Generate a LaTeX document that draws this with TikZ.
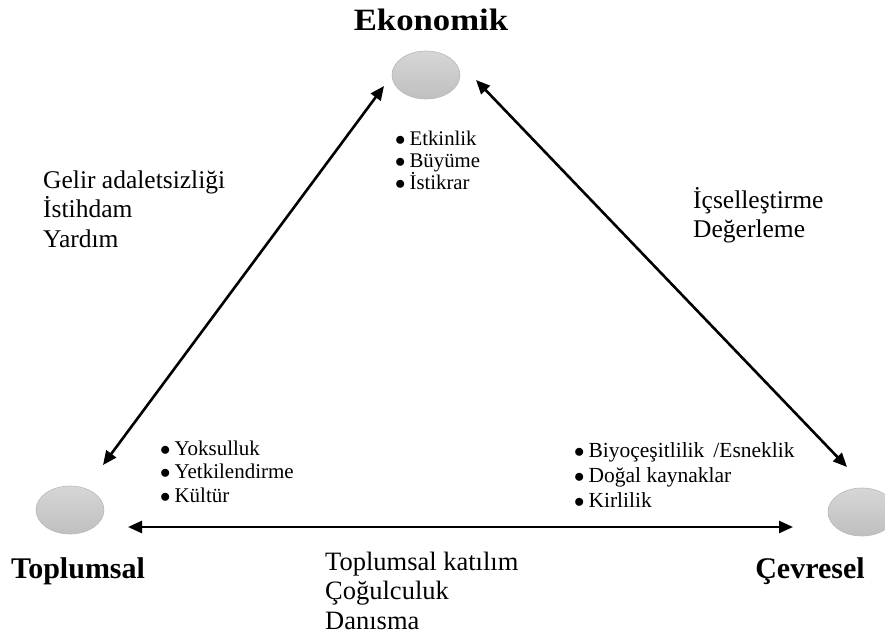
\documentclass[tikz,border=0pt]{standalone}
\usepackage{fontspec}
\setmainfont{Liberation Serif}
\usetikzlibrary{arrows.meta,shapes.geometric}

\tikzset{
  pole/.style={ellipse,draw=gray!55,line width=0.6pt,top color=gray!32,bottom color=gray!50,
    minimum width=68pt,minimum height=48pt,inner sep=0pt},
  pillar/.style={font=\fontsize{30}{34}\selectfont\bfseries,inner sep=0pt},
  link/.style={line width=2.6pt,{Triangle[length=14pt,width=12pt]}-{Triangle[length=14pt,width=12pt]}},
  relation/.style={align=left,anchor=base west,inner sep=0pt},
  issues/.style={align=left,anchor=base west,inner sep=0pt},
}
\newcommand{\issuept}[1]{$\bullet$\hspace{4pt}#1}

\begin{document}
\begin{tikzpicture}[x=1pt,y=-1pt]
  \useasboundingbox (0,0) rectangle (885,635);
  \clip (0,0) rectangle (885,635);

  % the three pillars
  \node[pole] (eko) at (426,75) {};
  \node[pole] (top) at (70,510) {};
  \node[pole] (cev) at (862,512) {};
  \node[pillar,anchor=base] (ekot) at (431,30) {\addfontfeature{FakeStretch=1.12}\fontsize{31}{34}\selectfont Ekonomik};
  \node[pillar,anchor=base] (topt) at (78,578) {Toplumsal};
  \node[pillar,anchor=base] (cevt) at (810,578) {Çevresel};

  % arrow ends
  \coordinate (eko-l) at (384,86);
  \coordinate (eko-r) at (476,80);
  \coordinate (top-u) at (103,465);
  \coordinate (top-r) at (128,527);
  \coordinate (cev-u) at (847,467);
  \coordinate (cev-l) at (793,527);
  \draw[link] (top-u) -- (eko-l);
  \draw[link] (eko-r) -- (cev-u);
  \draw[link] (top-r) -- (cev-l);

  % relations between pillars (placed by the last line)
  \node[relation,font=\fontsize{25.5}{29.5}\selectfont] (gelir) at (43,247)
    {Gelir adaletsizliği\\İstihdam\\Yardım};
  \node[relation,font=\fontsize{25.5}{29}\selectfont] (icsel) at (693,237)
    {İçselleştirme\\Değerleme};
  \node[relation,font=\fontsize{26.5}{29.5}\selectfont] (katil) at (325,629)
    {Toplumsal katılım\\Çoğulculuk\\Danısma};

  % issues of each pillar
  \node[issues,font=\fontsize{20.8}{22}\selectfont] (ekoi) at (395,189)
    {\issuept{Etkinlik}\\\issuept{Büyüme}\\\issuept{İstikrar}};
  \node[issues,font=\fontsize{21}{23.5}\selectfont] (topi) at (160,502)
    {\issuept{Yoksulluk}\\\issuept{Yetkilendirme}\\\issuept{Kültür}};
  \node[issues,font=\fontsize{21.5}{25}\selectfont] (cevi) at (574,507)
    {\issuept{Biyoçeşitlilik \,/Esneklik}\\\issuept{Doğal kaynaklar}\\\issuept{Kirlilik}};
\end{tikzpicture}
\end{document}
